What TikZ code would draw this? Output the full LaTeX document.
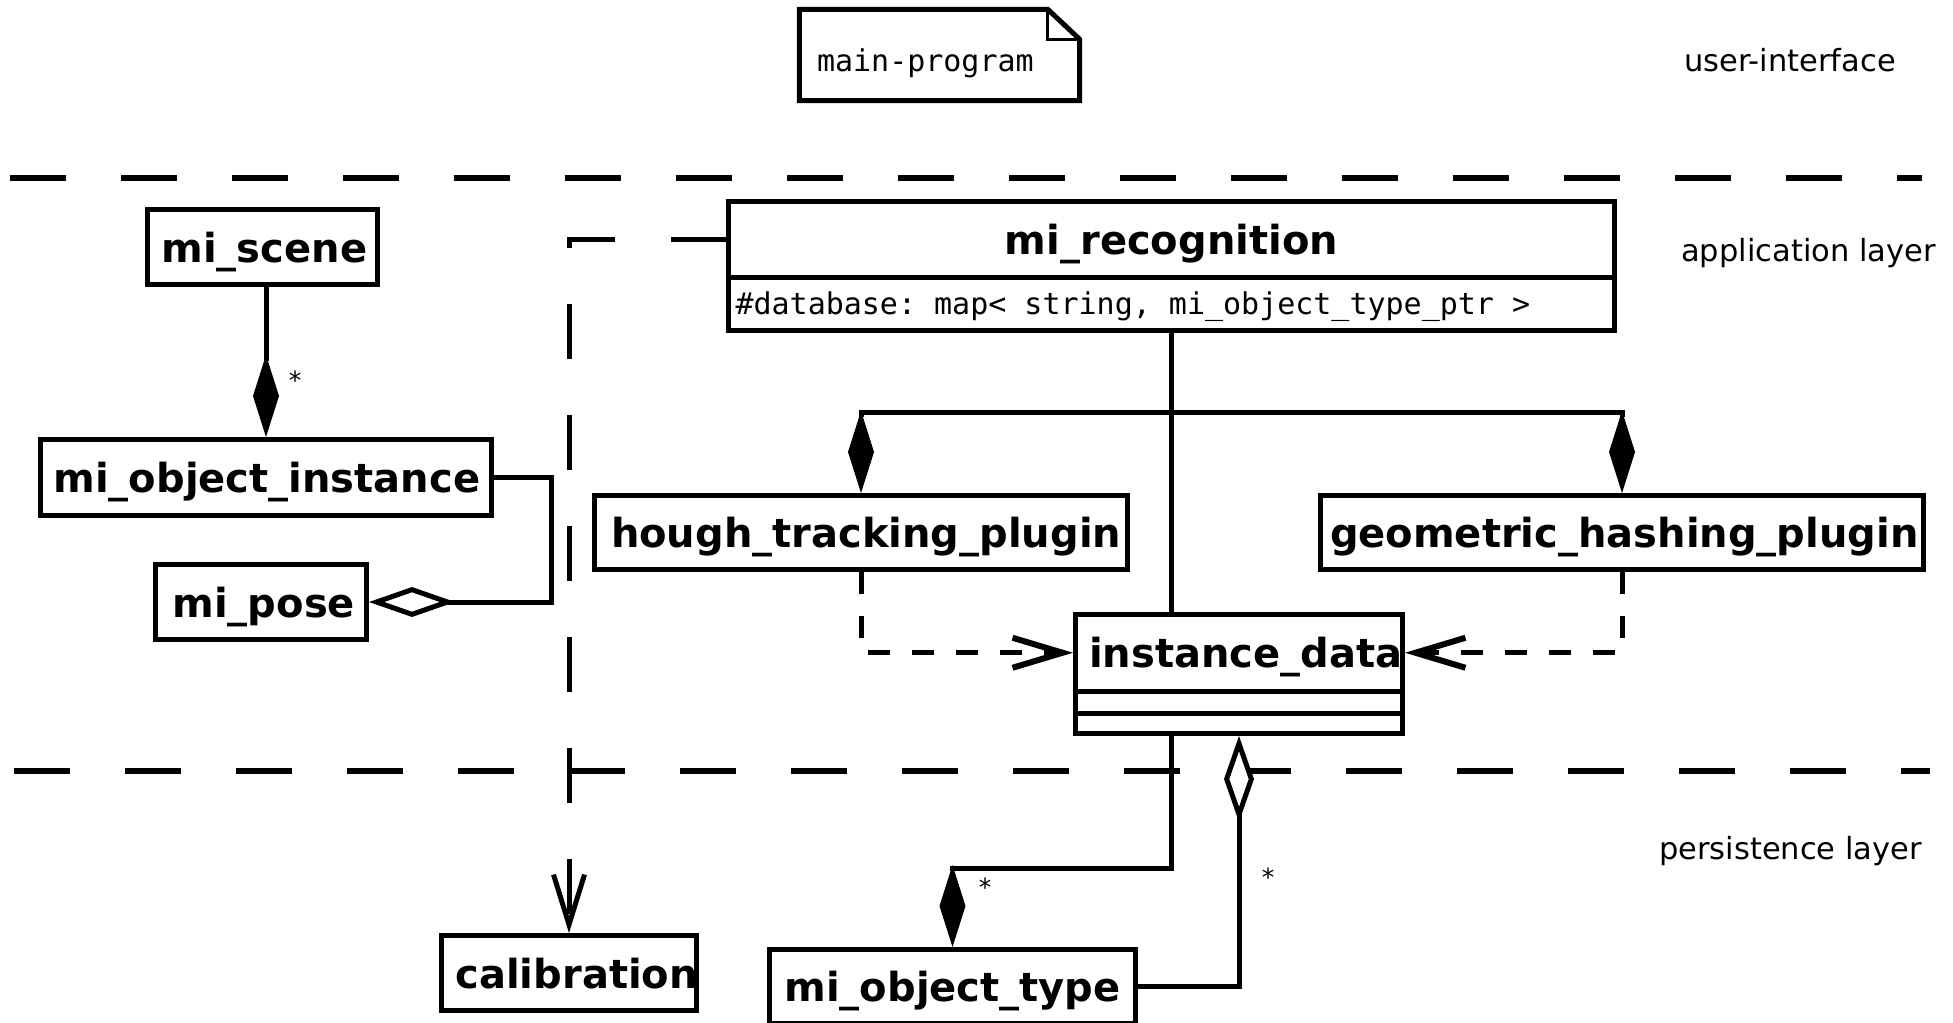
\documentclass[tikz,border=0pt]{standalone}
\usepackage{fontspec}
\setmainfont{DejaVu Sans}
\newfontfamily\umlmono{DejaVu Sans Mono}
\usetikzlibrary{arrows.meta}
\newcommand\umlsp{\kern0.602em\relax}
\begin{document}
\begin{tikzpicture}[x=1pt,y=-1pt,line join=miter,
  cls/.style={draw,line width=5pt,inner ysep=0pt,text height=30.4pt,text depth=0pt,
    font=\fontsize{40}{48}\selectfont\bfseries,align=left},
  attr/.style={draw,line width=5pt,inner ysep=0pt,text height=22pt,text depth=0pt,
    font=\umlmono\fontsize{30}{36}\selectfont,align=left},
  compart/.style={draw,line width=5pt,inner sep=0pt},
  notebox/.style={inner ysep=0pt,text height=34pt,text depth=0pt,
    font=\umlmono\fontsize{30}{36}\selectfont,align=left},
  lbl/.style={inner sep=0pt,font=\fontsize{30.5}{36}\selectfont,anchor=base west},
  mult/.style={inner sep=0pt,font=\fontsize{25}{30}\selectfont},
  conn/.style={line width=5pt},
  layerline/.style={line width=5.5pt,dash pattern=on 55.5pt off 55.5pt},
  fdia/.tip={Diamond[length=82pt,width=26pt,line width=1pt]},
  odia/.tip={Diamond[length=86pt,width=30pt,line width=5pt,fill=white]},
  comp/.style={conn,-fdia},
  aggr/.style={conn,-odia},
  deplong/.style={conn,dash pattern=on 55pt off 56pt,-{Straight Barb[length=50pt,width=31pt,line width=5pt]}},
  depshort/.style={conn,dash pattern=on 22pt off 22pt,-{Straight Barb[length=50pt,width=30pt,line width=6pt]}}
]
\useasboundingbox (0,0) rectangle (1953,1022);

% layer separators
\coordinate (l1a) at (10,178);
\coordinate (l1b) at (1922,178);
\coordinate (l2a) at (14,771);
\coordinate (l2b) at (1930,771);
\draw[layerline] (l1a) -- (l1b);
\draw[layerline] (l2a) -- (l2b);

% layer labels
\node[lbl] (ui) at (1684,72) {user-interface};
\node[lbl] (app) at (1681,261) {application layer};
\node[lbl] (pers) at (1659,859) {persistence layer};

% note
\node[notebox,minimum height=91pt,text width=245pt,inner xsep=17.5pt] (note) at (939.5,55) {main-program};
\draw[line width=5pt] (note.north west) -- ([xshift=-32pt]note.north east)
  -- ([yshift=-30pt]note.north east) -- (note.south east) -- (note.south west) -- cycle;
\draw[line width=3pt] ([xshift=-32pt]note.north east) |- ([yshift=-30pt]note.north east);

% classes
\node[cls,minimum height=75pt,text width=202pt,inner xsep=14pt] (scene) at (262.5,247) {mi\_scene};
\node[cls,minimum height=76pt,text width=425pt,inner xsep=13pt] (objinst) at (266,477.5) {mi\_object\_instance};
\node[cls,minimum height=75pt,text width=177pt,inner xsep=17pt] (pose) at (261,602) {mi\_pose};

\node[cls,minimum height=75.5pt,text width=860pt,inner xsep=13pt,align=center] (rec) at (1171.5,239.25) {mi\_recognition};
\node[attr,minimum height=53.5pt,text width=872pt,inner xsep=7pt] (recA) at (1171.5,303.75)
  {\#database:\umlsp map<\umlsp string,\umlsp mi\_object\_type\_ptr\umlsp >};

\node[cls,minimum height=74pt,text width=500pt,inner xsep=16.5pt] (hough) at (861,532.5) {hough\_tracking\_plugin};
\node[cls,minimum height=74pt,text width=584pt,inner xsep=9.5pt] (geom) at (1622,532.5) {geometric\_hashing\_plugin};

\node[cls,minimum height=76.5pt,text width=300pt,inner xsep=13.5pt] (inst) at (1239,652.75) {instance\_data};
\node[compart,minimum width=327pt,minimum height=22pt] (inst2) at (1239,702) {};
\node[compart,minimum width=327pt,minimum height=20.5pt] (inst3) at (1239,723.25) {};

\node[cls,minimum height=75pt,text width=227pt,inner xsep=14pt] (calib) at (569,973) {calibration};
\node[cls,minimum height=74pt,text width=336pt,inner xsep=15pt] (objtype) at (952.5,986.5) {mi\_object\_type};

% connectors
\draw[comp] (scene.south -| objinst.north) -- (objinst.north);
\draw[aggr] (objinst.east) -| ([xshift=182pt]pose.east) -- (pose.east);

\draw[conn] (recA.south) -- (recA.south |- inst.north);
\coordinate (branch) at (1171.5,412);
\draw[conn,fdia-fdia] (hough.north) |- (branch) -| (geom.north);

\draw[depshort] (hough.south) |- (inst.west);
\draw[depshort] (geom.south) |- (inst.east);

\draw[deplong] (rec.west) -| (calib.north);

\draw[comp] (inst3.south -| recA.south) -- ++(0,132.5) -| (objtype.north);
\draw[aggr] (objtype.east) -| (inst3.south);

% multiplicities
\node[mult] (m1) at (295,380) {*};
\node[mult] (m2) at (985,887) {*};
\node[mult] (m3) at (1268,877) {*};
\end{tikzpicture}
\end{document}
